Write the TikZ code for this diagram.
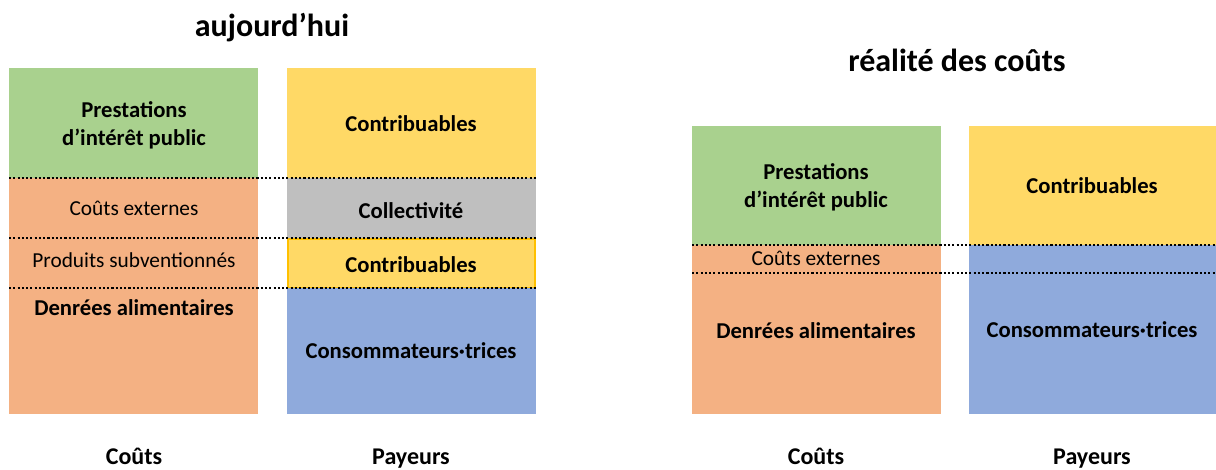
\documentclass[tikz,border=0pt]{standalone}
\usepackage{fontspec}
\setmainfont{Carlito}

\definecolor{vert}{HTML}{A9D18E}
\definecolor{jaune}{HTML}{FFD966}
\definecolor{saumon}{HTML}{F4B183}
\definecolor{gris}{HTML}{BFBFBF}
\definecolor{bleu}{HTML}{8FAADC}
\definecolor{orfonce}{HTML}{FFC000}

\tikzset{
  pointille/.style={black, line width=1.8pt, dash pattern=on 1.6pt off 1.6pt},
  gras/.style={font=\fontsize{17}{21}\selectfont\bfseries, align=center, inner sep=0pt},
  fin/.style={font=\fontsize{16}{20}\selectfont, inner sep=0pt},
  titre/.style={font=\fontsize{24}{28}\selectfont\bfseries, inner sep=0pt},
  legende/.style={font=\fontsize{18}{22}\selectfont\bfseries, inner sep=0pt, anchor=base},
}

\begin{document}
\begin{tikzpicture}[x=0.75pt, y=-0.75pt]
\useasboundingbox (0,0) rectangle (1216,469);

% aujourd'hui
\fill [vert] (9,68) rectangle (258,178);
\fill [saumon] (9,178) rectangle (258,414);
\fill [jaune] (287,68) rectangle (536,178);
\fill [gris] (287,178) rectangle (536,238);
\filldraw [fill=jaune, draw=orfonce, line width=1pt] (288,239) rectangle (535,288);
\fill [bleu] (287,288) rectangle (536,414);
\foreach \y in {178,238,288}
  \draw [pointille] (9,\y) -- (536,\y);

\node [titre] (t1) at (272,28) {aujourd’hui};
\node [gras] (c1a) at (134,125) {Prestations\\d’intérêt public};
\node [fin] (c1b) at (134,208) {Coûts externes};
\node [fin] (c1c) at (134,260) {Produits subventionnés};
\node [gras] (c1d) at (134,308) {Denrées alimentaires};
\node [gras] (p1a) at (411,124) {Contribuables};
\node [gras] (p1b) at (411,211) {Collectivité};
\node [gras] (p1c) at (411,265) {Contribuables};
\node [gras] (p1d) at (411,351) {Consommateurs·trices};
\node [legende] (l1a) at (134,464) {Coûts};
\node [legende] (l1b) at (411,464) {Payeurs};

% realite des couts
\fill [vert] (692,126) rectangle (941,245);
\fill [saumon] (692,245) rectangle (941,414);
\fill [jaune] (969,126) rectangle (1216,245);
\fill [bleu] (969,245) rectangle (1216,414);
\foreach \y in {245,273}
  \draw [pointille] (692,\y) -- (1216,\y);

\node [titre] (t2) at (957,60) {réalité des coûts};
\node [gras] (c2a) at (816,187) {Prestations\\d’intérêt public};
\node [fin] (c2b) at (816,258) {Coûts externes};
\node [gras] (c2c) at (816,331) {Denrées alimentaires};
\node [gras] (p2a) at (1092,186) {Contribuables};
\node [gras] (p2b) at (1092,330) {Consommateurs·trices};
\node [legende] (l2a) at (816,464) {Coûts};
\node [legende] (l2b) at (1092,464) {Payeurs};
\end{tikzpicture}
\end{document}
